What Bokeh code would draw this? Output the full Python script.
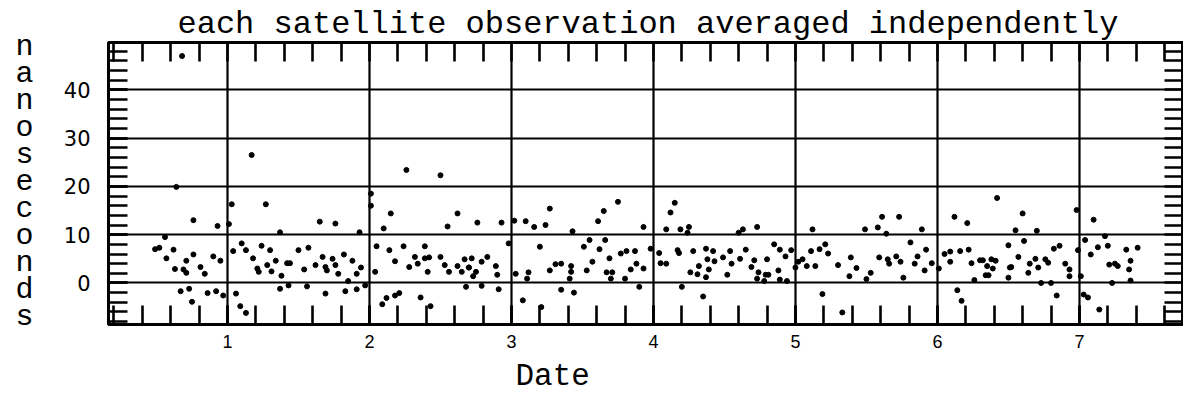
from bokeh.plotting import figure
from bokeh.models import LinearAxis, Range1d, SingleIntervalTicker, FixedTicker, Grid, Title
from bokeh.embed import file_html
from bokeh.resources import INLINE

title_text = "each satellite observation averaged independently"
x_label = "Date"
y_label = "nanoseconds"

date = [
    0.68, 1.17, 0.64, 1.03, 1.27, 0.76, 0.93, 1.01, 1.37, 0.56, 0.52, 0.49, 0.62, 0.57, 0.76, 0.71,
    0.90, 0.95, 0.63, 0.69, 0.71, 0.81, 0.84, 1.10, 1.04, 1.13, 1.24, 1.30, 1.18, 1.34, 1.21, 1.22,
    1.28, 1.31, 1.38, 1.42, 0.67, 0.73, 0.75, 0.86, 0.92, 0.97, 1.06, 1.09, 1.13, 1.37, 1.43,
    2.26, 2.50, 2.01, 2.01, 2.15, 2.10, 1.65, 1.76, 1.93, 2.55, 2.62, 1.44, 1.50, 1.57, 1.54, 1.62,
    1.67, 1.74, 1.69, 1.70, 1.76, 1.82, 1.78, 1.88, 1.91, 1.94, 1.85, 1.56, 1.69, 1.83, 1.91, 1.97,
    2.05, 2.04, 2.14, 2.18, 2.24, 2.28, 2.32, 2.34, 2.39, 2.39, 2.42, 2.41, 2.50, 2.53, 2.56, 2.62,
    2.65, 2.67, 2.70, 2.09, 2.12, 2.18, 2.21, 2.36, 2.43, 2.68,
    3.27, 3.65, 3.75, 2.76, 2.93, 3.02, 3.10, 3.16, 3.24, 3.61, 3.93, 3.43, 2.98, 2.72, 2.83, 2.79,
    2.70, 2.75, 2.73, 2.89, 2.90, 2.79, 2.91, 3.03, 3.12, 3.11, 3.20, 3.27, 3.31, 3.35, 3.42, 3.42,
    3.41, 3.35, 3.44, 3.08, 3.21, 3.51, 3.55, 3.62, 3.66, 3.57, 3.53, 3.69, 3.67, 3.71, 3.70, 3.77,
    3.81, 3.87, 3.88, 3.84, 3.93, 3.80, 3.90, 3.98,
    4.15, 4.12, 4.09, 4.19, 4.25, 4.24, 4.63, 4.73, 4.60, 5.12, 4.04, 4.05, 4.09, 4.17, 4.18, 4.28,
    4.37, 4.42, 4.38, 4.43, 4.49, 4.54, 4.55, 4.61, 4.65, 4.71, 4.69, 4.80, 4.85, 4.89, 4.93, 4.97,
    4.32, 4.39, 4.26, 4.31, 4.37, 4.52, 4.74, 4.79, 4.81, 4.73, 4.78, 4.88, 4.89, 4.94, 4.20, 4.35,
    5.02, 5.05, 5.08, 5.11, 5.14, 5.17, 5.21, 5.23, 5.19, 5.00,
    6.42, 5.61, 5.73, 5.58, 5.49, 5.64, 5.89, 6.12, 6.21, 5.81, 5.39, 5.30, 5.43, 5.38, 5.50, 5.53,
    5.59, 5.65, 5.66, 5.71, 5.74, 5.76, 5.84, 5.86, 5.92, 5.91, 5.96, 6.01, 6.05, 6.09, 6.09, 6.16,
    6.22, 6.24, 6.30, 6.32, 6.38, 6.41, 6.35, 6.39, 6.34, 6.36, 6.26, 6.50, 6.51, 6.50, 5.33, 6.14,
    6.17,
    6.60, 7.10, 6.98, 6.55, 6.70, 6.61, 7.04, 7.18, 6.82, 6.86, 6.57, 6.65, 6.69, 6.76, 6.78, 6.52,
    6.71, 6.64, 6.90, 6.93, 6.93, 6.99, 7.01, 7.13, 7.20, 7.08, 7.33, 7.41, 7.21, 7.25, 7.27, 7.35,
    7.36, 6.73, 6.80, 7.23, 7.36, 6.84, 7.03, 7.06, 7.14,
]
ns = [
    47.0, 26.5, 19.9, 16.3, 16.3, 13.0, 11.8, 12.2, 10.5, 9.5, 7.3, 7.0, 6.9, 5.1, 5.9, 4.6,
    5.5, 4.6, 2.9, 2.8, 2.1, 3.3, 1.9, 8.2, 6.6, 6.8, 7.7, 6.8, 5.1, 4.6, 3.0, 2.3,
    3.7, 2.4, 1.5, 4.1, -1.7, -1.2, -3.9, -2.1, -1.7, -2.6, -2.2, -4.8, -6.2, -1.2, -0.5,
    23.4, 22.3, 18.5, 16.0, 14.4, 11.3, 12.7, 12.3, 10.5, 11.7, 14.4, 4.1, 6.8, 7.3, 2.8, 3.7,
    5.4, 5.0, 3.3, 2.6, 3.7, 5.9, 1.9, 4.6, 1.9, 3.2, 0.4, -0.7, -2.2, -1.7, -1.3, -0.5,
    7.6, 2.3, 6.8, 4.5, 7.6, 3.3, 5.4, 4.0, 7.6, 5.1, 5.3, 2.3, 5.4, 3.7, 2.3, 3.5,
    2.3, 4.9, 3.2, -4.4, -3.1, -2.6, -2.1, -3.0, -4.8, -0.8,
    15.4, 14.9, 16.8, 12.5, 12.5, 12.9, 12.8, 11.6, 12.0, 12.8, 11.6, 10.7, 8.2, 5.1, 5.4, 4.4,
    3.2, 2.3, 1.4, 3.5, 1.7, -0.6, -1.3, 1.9, 2.2, 0.9, 7.5, 2.6, 3.9, 4.0, 3.5, 2.3,
    0.9, -1.4, -2.0, -3.6, -5.0, 7.5, 8.9, 7.0, 8.9, 4.4, 2.6, 5.1, 2.2, 2.2, 0.9, 6.1,
    6.6, 6.6, 4.0, 2.8, 3.0, 0.9, -0.8, 7.1,
    16.6, 14.6, 11.1, 11.1, 11.6, 10.4, 11.1, 11.6, 10.4, 11.1, 6.2, 4.1, 4.0, 6.8, 6.2, 6.6,
    7.1, 6.6, 4.9, 4.5, 5.3, 6.6, 4.0, 5.0, 6.9, 4.7, 3.3, 4.9, 8.0, 6.9, 5.5, 6.8,
    3.5, 2.8, 2.2, 1.8, 1.2, 1.7, 2.2, 1.7, 1.7, 0.9, 0.4, 2.6, 0.7, 0.4, -0.8, -2.8,
    4.4, 4.9, 3.5, 6.6, 3.5, 7.0, 8.0, 6.1, -2.3, 3.2,
    17.6, 13.7, 13.7, 11.5, 11.1, 10.2, 11.1, 13.7, 12.4, 8.4, 5.3, 3.7, 3.1, 1.4, 0.8, 2.1,
    5.3, 4.9, 4.0, 5.5, 4.4, 1.1, 4.0, 5.5, 6.9, 2.6, 4.1, 3.0, 6.0, 6.5, 4.4, 6.6,
    6.9, 4.1, 4.7, 4.7, 4.9, 4.6, 3.5, 3.0, 1.6, 1.6, 0.6, 1.1, 3.2, 7.8, -6.1, -1.5,
    -3.7,
    14.4, 13.1, 15.1, 10.9, 10.8, 8.7, 8.9, 9.7, 7.1, 7.7, 5.4, 4.0, 5.0, 4.9, 4.2, 3.3,
    3.2, 2.1, 4.0, 1.4, 2.8, 6.8, 1.4, 7.4, 7.7, 5.9, 6.9, 7.3, 3.8, 4.0, 3.5, 2.8,
    4.6, 0.0, 0.0, 0.0, 0.5, -2.6, -2.4, -3.0, -5.5,
]

# tick layout: majors every 1 day / 10 ns, minors every 0.2 day / 2 ns
x_major_interval = 1
y_major_interval = 10
x_minor_ticks = [round(0.2 * i, 1) for i in range(1, 40)]
y_minor_ticks = list(range(-8, 50, 2))

# vertical axis title written one letter per line (as labels of an outer axis)
letters = list(y_label)
letter_slots = list(range(len(letters)))

p = figure(width=1183, height=400, output_backend="svg", toolbar_location=None,
           x_range=Range1d(0.162, 7.733), y_range=Range1d(-8.6, 49.8),
           min_border_left=108, min_border_right=0, min_border_top=42, min_border_bottom=76,
           x_axis_location=None, y_axis_location=None)
p.background_fill_color = "white"
p.border_fill_color = "white"
p.outline_line_color = "black"
p.outline_line_width = 3
p.extra_y_ranges = {"letters": Range1d(start=10.26, end=-0.185)}

xt = SingleIntervalTicker(interval=x_major_interval, num_minor_ticks=5)
yt = SingleIntervalTicker(interval=y_major_interval, num_minor_ticks=5)

p.add_layout(Grid(dimension=0, ticker=xt, grid_line_color="black", grid_line_width=2.2))
p.add_layout(Grid(dimension=1, ticker=yt, grid_line_color="black", grid_line_width=2.2))


def style(ax):
    ax.axis_line_color = "black"
    ax.axis_line_width = 3
    ax.major_tick_in = 19
    ax.major_tick_out = 0
    ax.minor_tick_in = 19
    ax.minor_tick_out = 0
    ax.major_tick_line_width = 2.6
    ax.minor_tick_line_width = 2.6
    ax.major_tick_line_color = "black"
    ax.minor_tick_line_color = "black"


bottom = LinearAxis(ticker=xt)
style(bottom)
bottom.major_label_text_font = "Liberation Sans"
bottom.major_label_text_font_size = "18px"
bottom.major_label_text_color = "black"
bottom.major_label_standoff = 10
p.add_layout(bottom, "below")

left = LinearAxis(ticker=yt)
style(left)
left.major_label_text_font = "DejaVu Sans"
left.major_label_text_font_size = "21px"
left.major_label_text_color = "black"
left.major_label_standoff = 18
p.add_layout(left, "left")

name_axis = LinearAxis(y_range_name="letters", ticker=FixedTicker(ticks=letter_slots),
                       major_label_overrides={i: ch for i, ch in zip(letter_slots, letters)})
name_axis.axis_line_color = None
name_axis.major_tick_line_color = None
name_axis.minor_tick_line_color = None
name_axis.major_tick_in = 0
name_axis.major_tick_out = 0
name_axis.minor_tick_in = 0
name_axis.minor_tick_out = 0
name_axis.major_label_standoff = 27
name_axis.major_label_text_font = "Liberation Mono"
name_axis.major_label_text_font_size = "30px"
name_axis.major_label_text_color = "black"
p.add_layout(name_axis, "left")

top = LinearAxis(ticker=FixedTicker(ticks=[], minor_ticks=x_minor_ticks))
style(top)
top.major_label_standoff = 0
p.add_layout(top, "above")

right = LinearAxis(ticker=FixedTicker(ticks=[], minor_ticks=y_minor_ticks))
style(right)
right.major_label_standoff = 0
p.add_layout(right, "right")

p.scatter(date, ns, size=5, color="black")

p.title = Title(text=title_text, align="left", offset=69, text_font="Liberation Mono",
                text_font_size="32px", text_font_style="normal", text_color="black",
                standoff=0, text_line_height=0.8)
p.title_location = "above"

p.add_layout(Title(text=x_label, align="left", offset=407, text_font="Liberation Mono",
                   text_font_size="31px", text_font_style="normal", text_color="black",
                   standoff=12, text_line_height=0.8), "below")

open("out.html", "w").write(file_html(p, INLINE))
